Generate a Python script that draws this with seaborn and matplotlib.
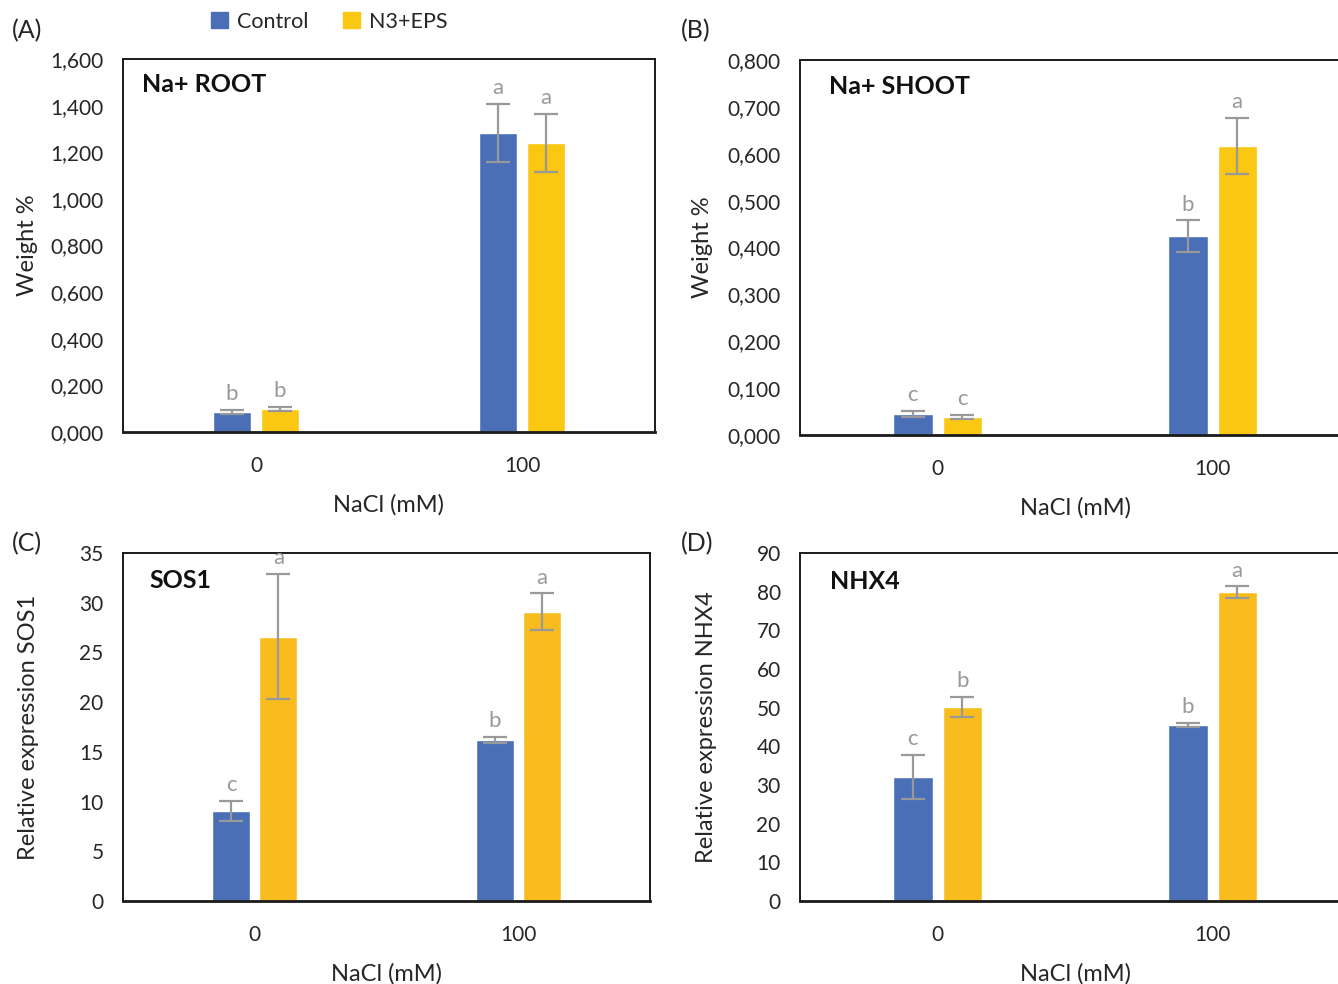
import pandas as pd
import numpy as np
import matplotlib.pyplot as plt
import seaborn as sns
from matplotlib.ticker import FuncFormatter

sns.set_style("white")
plt.rcParams['font.family'] = ['Lato', 'DejaVu Sans']

nacl = ['0', '100']
treatments = ['Control', 'N3+EPS']

# values per panel: [control_0, control_100], [n3_0, n3_100]
root_ctrl = [0.086, 1.283]
root_n3 = [0.099, 1.240]
root_ctrl_err = [0.010, 0.125]
root_n3_err = [0.010, 0.125]
root_letters = [['b', 'a'], ['b', 'a']]

shoot_ctrl = [0.045, 0.424]
shoot_n3 = [0.038, 0.617]
shoot_ctrl_err = [0.007, 0.034]
shoot_n3_err = [0.005, 0.060]
shoot_letters = [['c', 'b'], ['c', 'a']]

sos1_ctrl = [9.1, 16.2]
sos1_n3 = [26.6, 29.1]
sos1_ctrl_err = [1.0, 0.3]
sos1_n3_err = [6.3, 1.85]
sos1_letters = [['c', 'b'], ['a', 'a']]

nhx4_ctrl = [32.1, 45.6]
nhx4_n3 = [50.2, 79.9]
nhx4_ctrl_err = [5.7, 0.5]
nhx4_n3_err = [2.6, 1.5]
nhx4_letters = [['c', 'b'], ['b', 'a']]

blue = '#4A6FB6'
yellow_top = '#FAC712'
yellow_bot = '#F8BC1F'
grey = '#999999'
txt = '#262626'


def make_df(ctrl, n3):
    return pd.DataFrame({
        'NaCl': nacl * 2,
        'treatment': [treatments[0]] * 2 + [treatments[1]] * 2,
        'value': ctrl + n3,
    })


def panel(ax, ctrl, n3, ctrl_err, n3_err, letters, ymax, step, decimals,
          title, ylabel, title_pos, yellow, label_x):
    df = make_df(ctrl, n3)
    sns.barplot(data=df, x='NaCl', y='value', hue='treatment',
                palette=[blue, yellow], width=0.36, gap=0.2,
                errorbar=None, saturation=1, ax=ax, legend=False)
    errs = [ctrl_err, n3_err]
    for cont, err, lets in zip(ax.containers, errs, letters):
        for bar, e, let in zip(cont, err, lets):
            xc = bar.get_x() + bar.get_width() / 2
            h = bar.get_height()
            ax.errorbar(xc, h, yerr=e, color=grey, capsize=8.5,
                        elinewidth=1.6, capthick=1.6)
            ax.annotate(let, (xc, h + e), xytext=(0, 4),
                        textcoords='offset points', ha='center',
                        va='bottom', color=grey, fontsize=16)
    ax.set_xlim(-0.5, 1.5)
    ax.set_ylim(0, ymax)
    ax.set_yticks(np.arange(0, ymax + step / 2, step))
    if decimals:
        ax.yaxis.set_major_formatter(
            FuncFormatter(lambda v, p: f'{v:.3f}'.replace('.', ',')))
    else:
        ax.yaxis.set_major_formatter(FuncFormatter(lambda v, p: f'{v:.0f}'))
    ax.tick_params(axis='both', length=0, labelsize=15, colors=txt)
    ax.tick_params(axis='y', pad=14)
    ax.tick_params(axis='x', pad=17.5)
    ax.set_xlabel('NaCl (mM)', fontsize=17, color=txt, labelpad=13)
    ax.set_ylabel(ylabel, fontsize=17, color=txt)
    ax.yaxis.set_label_coords(label_x, 0.5)
    for s in ax.spines.values():
        s.set_visible(True)
        s.set_color('#1a1a1a')
        s.set_linewidth(1.4)
    ax.spines['bottom'].set_linewidth(2)
    ax.text(title_pos[0], title_pos[1], title, transform=ax.transAxes,
            fontsize=18, fontweight='bold', color='#111111', va='center')


fig = plt.figure(figsize=(13.38, 9.84), dpi=100)
axA = fig.add_axes([0.0919, 0.561, 0.3976, 0.379])
axB = fig.add_axes([0.598, 0.558, 0.411, 0.381])
axC = fig.add_axes([0.0919, 0.0843, 0.394, 0.3537])
axD = fig.add_axes([0.598, 0.0843, 0.411, 0.3537])

panel(axA, root_ctrl, root_n3, root_ctrl_err, root_n3_err, root_letters,
      1.6, 0.2, True, 'Na+ ROOT', 'Weight %', (0.036, 0.933), yellow_top,
      -0.16)
panel(axB, shoot_ctrl, shoot_n3, shoot_ctrl_err, shoot_n3_err, shoot_letters,
      0.8, 0.1, True, 'Na+ SHOOT', 'Weight %', (0.053, 0.93), yellow_top,
      -0.158)
panel(axC, sos1_ctrl, sos1_n3, sos1_ctrl_err, sos1_n3_err, sos1_letters,
      35, 5, False, 'SOS1', 'Relative expression SOS1', (0.051, 0.922),
      yellow_bot, -0.16)
panel(axD, nhx4_ctrl, nhx4_n3, nhx4_ctrl_err, nhx4_n3_err, nhx4_letters,
      90, 10, False, 'NHX4', 'Relative expression NHX4', (0.055, 0.917),
      yellow_bot, -0.151)

for lab, x, y in [('(A)', 0.009, 0.969), ('(B)', 0.509, 0.969),
                  ('(C)', 0.009, 0.448), ('(D)', 0.509, 0.448)]:
    fig.text(x, y, lab, fontsize=18, color=txt, va='center')

handles = [plt.Rectangle((0, 0), 1, 1, color=blue),
           plt.Rectangle((0, 0), 1, 1, color=yellow_top)]
fig.legend(handles, treatments, loc='center', bbox_to_anchor=(0.246, 0.978),
           ncol=2, frameon=False, fontsize=15.5, handlelength=0.8,
           handleheight=0.8, handletextpad=0.4, columnspacing=1.6,
           labelcolor=txt)

fig.savefig('out.png', dpi=100)
